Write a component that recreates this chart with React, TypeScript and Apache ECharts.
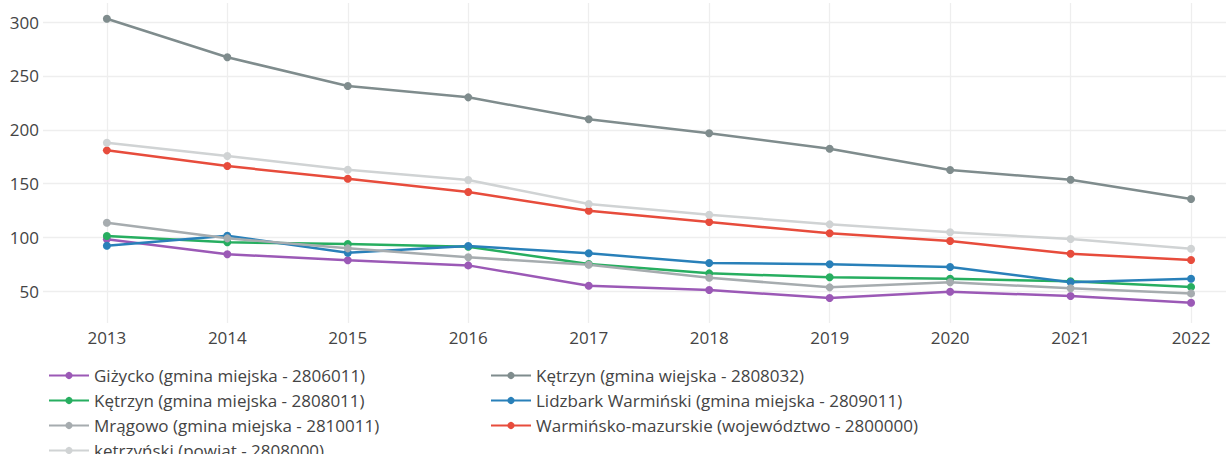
import React, { useEffect, useRef } from "react";
import * as echarts from "echarts";

const years = [2013, 2014, 2015, 2016, 2017, 2018, 2019, 2020, 2021, 2022];

const gizycko = [98.3, 84.4, 78.8, 74.1, 55.2, 51.2, 43.8, 49.6, 45.6, 39.4];
const ketrzynWiejska = [303.1, 267.3, 240.6, 230.1, 209.7, 196.7, 182.4, 162.6, 153.6, 135.7];
const ketrzynMiejska = [101.3, 95.5, 93.9, 91.4, 75.3, 66.7, 63.0, 61.7, 59.3, 54.0];
const lidzbark = [92.3, 101.6, 85.8, 92.1, 85.3, 76.3, 75.1, 72.6, 58.4, 61.7];
const mragowo = [113.7, 99.2, 89.9, 81.6, 74.7, 62.6, 53.7, 58.4, 52.8, 48.1];
const warminsko = [180.9, 166.3, 154.5, 142.2, 124.8, 114.3, 103.9, 96.7, 84.9, 79.1];
const ketrzynski = [188.0, 175.6, 162.9, 153.3, 131.1, 121.1, 112.2, 104.8, 98.6, 89.6];

const seriesNames = [
  "Giżycko (gmina miejska - 2806011)",
  "Kętrzyn (gmina wiejska - 2808032)",
  "Kętrzyn (gmina miejska - 2808011)",
  "Lidzbark Warmiński (gmina miejska - 2809011)",
  "Mrągowo (gmina miejska - 2810011)",
  "Warmińsko-mazurskie (województwo - 2800000)",
  "ketrzyński (powiat - 2808000)",
];
const seriesValues = [gizycko, ketrzynWiejska, ketrzynMiejska, lidzbark, mragowo, warminsko, ketrzynski];
const seriesColors = ["#9b59b6", "#7f8c8d", "#27ae60", "#2980b9", "#a6acaf", "#e74c3c", "#d0d3d4"];

export default function App() {
  const ref = useRef<HTMLDivElement>(null);
  useEffect(() => {
    if (!ref.current) return;
    const chart = echarts.init(ref.current, undefined, { renderer: "svg" });
    const font = "'Open Sans', 'DejaVu Sans', sans-serif";
    // legend: two columns, rows 25px apart (order follows series order, row-major)
    const legends = seriesNames.map((name, i) => ({
      orient: "horizontal",
      left: i % 2 === 0 ? 43 : 485,
      top: 362 + Math.floor(i / 2) * 25,
      itemWidth: 40,
      itemHeight: 9,
      textStyle: { fontFamily: font, fontSize: 17, color: "#444", lineHeight: 16 },
      selectedMode: false,
      data: [name],
    }));
    chart.setOption({
      animation: false,
      textStyle: { fontFamily: font },
      grid: { left: 43, right: 0, top: 3, bottom: 131, containLabel: false },
      legend: legends,
      xAxis: {
        type: "value",
        min: 2012.47,
        max: 2022.29,
        minInterval: 1,
        maxInterval: 1,
        axisLine: { show: false },
        axisTick: { show: false },
        axisLabel: {
          showMinLabel: false,
          showMaxLabel: false,
          margin: 6,
          fontSize: 17,
          color: "#444",
          fontFamily: font,
          formatter: (v: number) => String(Math.round(v)),
        },
        splitLine: { show: true, showMinLine: false, showMaxLine: false, lineStyle: { color: "#eeeeee", width: 1.3 } },
      },
      yAxis: {
        type: "value",
        min: 20.6,
        max: 317.7,
        minInterval: 50,
        maxInterval: 50,
        axisLine: { show: false },
        axisTick: { show: false },
        axisLabel: {
          showMinLabel: false,
          showMaxLabel: false,
          margin: 4,
          fontSize: 17,
          color: "#444",
          fontFamily: font,
        },
        splitLine: { show: true, showMinLine: false, showMaxLine: false, lineStyle: { color: "#eeeeee", width: 1.3 } },
      },
      series: seriesNames.map((name, i) => ({
        name,
        type: "line",
        data: years.map((y, j) => [y, seriesValues[i][j]]),
        symbol: "circle",
        symbolSize: 8,
        showSymbol: true,
        itemStyle: { color: seriesColors[i] },
        lineStyle: { color: seriesColors[i], width: 2.5 },
        z: 2,
      })),
    });
    return () => chart.dispose();
  }, []);
  return (
    <div
      ref={ref}
      style={{ position: "fixed", left: 0, top: 0, width: 1226, height: 454, background: "#fff" }}
    />
  );
}
